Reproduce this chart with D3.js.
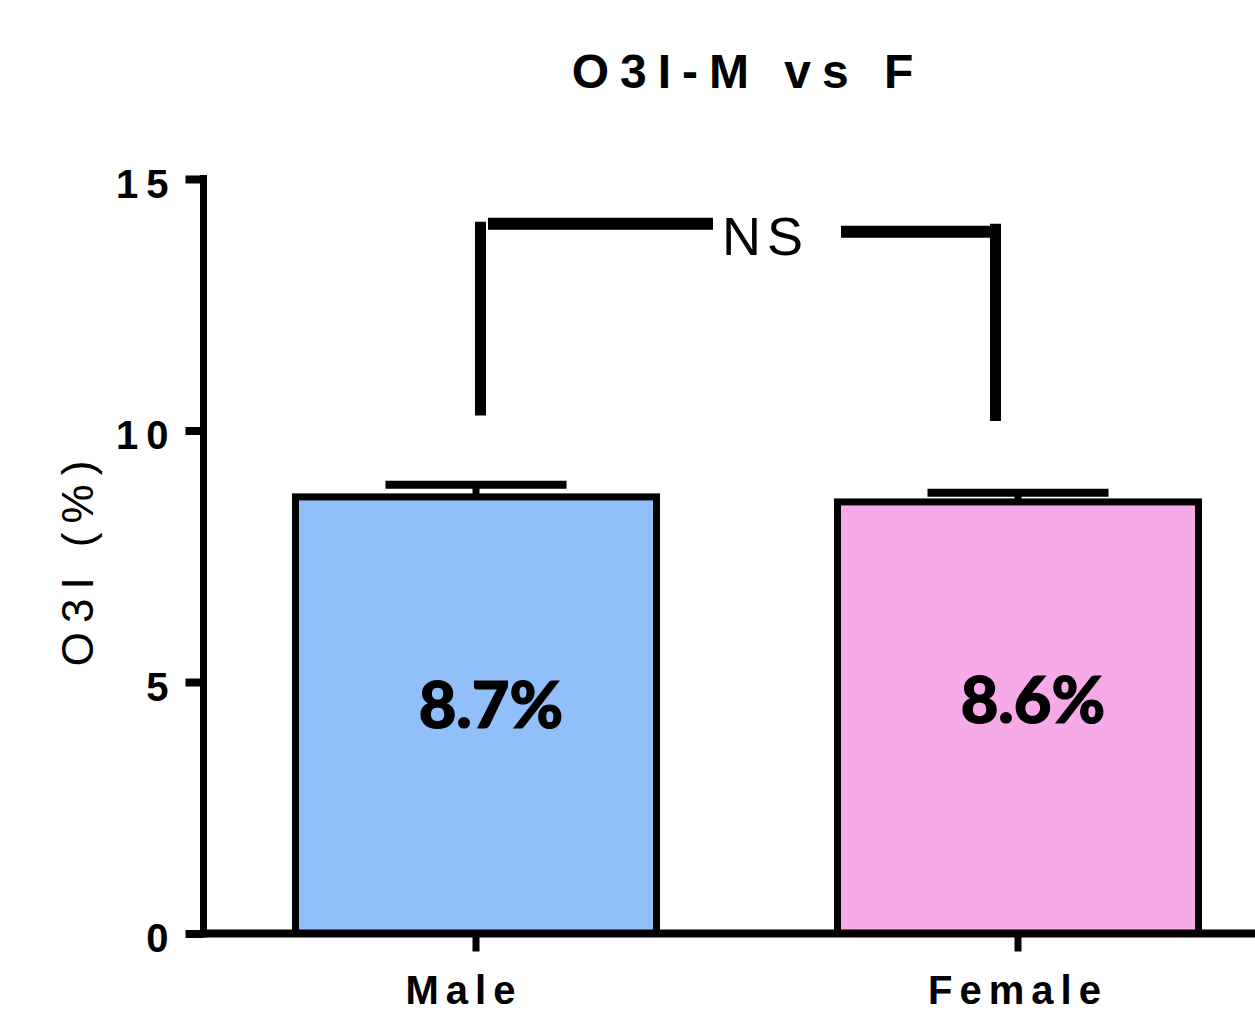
<!DOCTYPE html>
<html><head><meta charset="utf-8">
<script src="https://cdn.jsdelivr.net/npm/d3@7"></script>
<style>body{margin:0;background:#fff}svg{display:block}</style>
</head><body>
<svg id="c" width="1255" height="1013"></svg>
<script>
const categories = ["Male", "Female"];
const means = [8.68, 8.58];
const errors = [0.24, 0.18];
const valueLabels = ["8.7%", "8.6%"];
const fills = ["#90bff9", "#f7aae8"];
const yTicks = [0, 5, 10, 15];
const title = "O3I-M vs F";
const yTitle = "O3I (%)";
const sigLabel = "NS";
// bracket levels (data units)
const bracketTopLeft = 14.11, bracketTopRight = 13.95;
const bracketBottomLeft = 10.3, bracketBottomRight = 10.19;

const svg = d3.select("#c");
const y = d3.scaleLinear().domain([0, 15]).range([933.5, 179]);
const x = d3.scaleBand().domain(categories).range([205, 1289]).paddingInner(0.334).paddingOuter(0.167);
const bw = x.bandwidth();
const cx = c => x(c) + bw / 2;

// Bars
svg.selectAll("rect.bar").data(categories).join("rect")
  .attr("x", d => x(d)).attr("width", bw)
  .attr("y", (d, i) => y(means[i])).attr("height", (d, i) => y(0) - y(means[i]))
  .attr("fill", (d, i) => fills[i]).attr("stroke", "#000").attr("stroke-width", 7);

// Error bars
const capW = 181;
categories.forEach((c, i) => {
  svg.append("line").attr("x1", cx(c)).attr("x2", cx(c))
    .attr("y1", y(means[i])).attr("y2", y(means[i] + errors[i]))
    .attr("stroke", "#000").attr("stroke-width", 7);
  svg.append("line").attr("x1", cx(c) - capW / 2).attr("x2", cx(c) + capW / 2)
    .attr("y1", y(means[i] + errors[i])).attr("y2", y(means[i] + errors[i]))
    .attr("stroke", "#000").attr("stroke-width", 8);
});

// Value labels
categories.forEach((c, i) => {
  svg.append("text").attr("x", cx(c) + 15).attr("y", i === 0 ? 728 : 723)
    .attr("text-anchor", "middle").attr("font-family", "Lato").attr("font-weight", 900)
    .attr("font-size", 65).attr("stroke", "#000").attr("stroke-width", 1.2).text(valueLabels[i]);
});

// Y axis
const yAxis = d3.axisLeft(y).tickValues(yTicks).tickSize(18).tickPadding(12);
const gy = svg.append("g").attr("transform", "translate(203.5,0)").call(yAxis);
gy.select(".domain").attr("d", `M0,${y(15) - 4}V${y(0) + 4}`).attr("stroke", "#000").attr("stroke-width", 7);
gy.selectAll(".tick line").attr("stroke", "#000").attr("stroke-width", 8);
gy.selectAll(".tick text").attr("font-family", "Liberation Sans, Arial").attr("font-weight", "bold")
  .attr("font-size", 40).attr("letter-spacing", 8).attr("dy", "0.45em").attr("fill", "#000")
  .attr("dx", 3);

// X axis
const xAxis = d3.axisBottom(x).tickSize(18).tickPadding(34);
const gx = svg.append("g").attr("transform", `translate(0,${y(0)})`).call(xAxis);
gx.select(".domain").attr("d", "M200,0H1255").attr("stroke", "#000").attr("stroke-width", 8);
gx.selectAll(".tick line").attr("stroke", "#000").attr("stroke-width", 7);
gx.selectAll(".tick text").attr("font-family", "Liberation Sans, Arial").attr("font-weight", "bold")
  .attr("font-size", 40).attr("letter-spacing", 7).attr("fill", "#000")
  .attr("dx", (d, i) => i === 0 ? -12 : 0).attr("dy", 0).attr("y", 70);

// Titles
svg.append("text").attr("x", 748).attr("y", 88).attr("text-anchor", "middle")
  .attr("font-family", "Liberation Sans, Arial").attr("font-weight", "bold")
  .attr("font-size", 48).attr("letter-spacing", 11).text(title);
svg.append("text").attr("transform", "translate(93,559) rotate(-90)").attr("text-anchor", "middle")
  .attr("font-family", "Liberation Sans, Arial").attr("font-size", 44).attr("letter-spacing", 9)
  .text(yTitle);

// Significance bracket
const lx = cx(categories[0]) + 4.5, rx = cx(categories[1]) - 22.5;
const blk = (x1, y1, x2, y2, w) => svg.append("line").attr("x1", x1).attr("y1", y1).attr("x2", x2).attr("y2", y2)
  .attr("stroke", "#000").attr("stroke-width", w);
blk(lx, y(bracketTopLeft) - 2, lx, y(bracketBottomLeft), 11);
blk(488, y(bracketTopLeft), 713, y(bracketTopLeft), 12);
blk(841, y(bracketTopRight), rx, y(bracketTopRight), 12);
blk(rx, y(bracketTopRight) - 8, rx, y(bracketBottomRight), 11);
svg.append("text").attr("x", 722).attr("y", 255).attr("font-family", "Liberation Sans, Arial")
  .attr("font-size", 54).attr("letter-spacing", 6).text(sigLabel);
</script>
</body></html>
